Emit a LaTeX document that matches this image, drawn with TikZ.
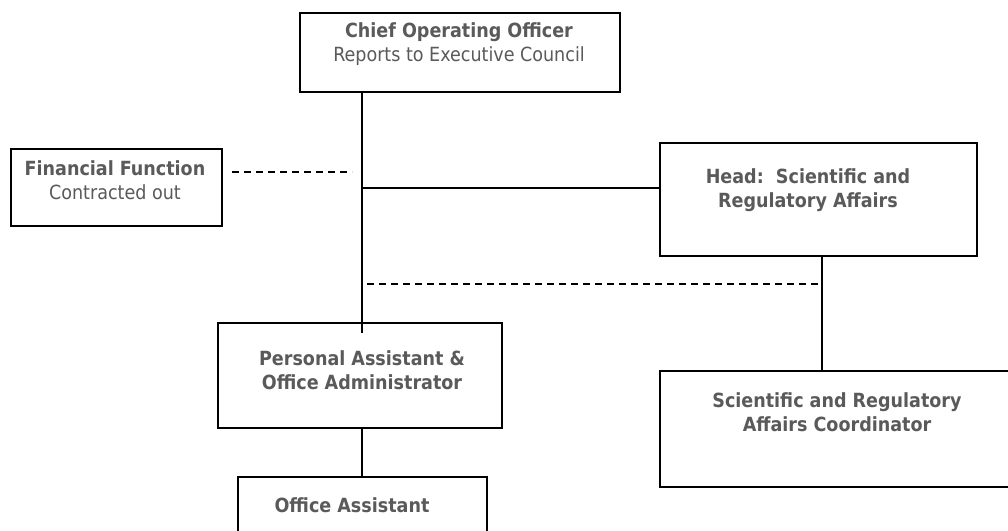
\documentclass[tikz,border=0pt]{standalone}
\usepackage{fontspec}
\setmainfont{DejaVu Sans Condensed}
\usetikzlibrary{calc}
\definecolor{txt}{HTML}{5A5A5A}
\tikzset{
  box/.style={draw=black, line width=1.8pt, fill=white, rectangle, anchor=north west, inner sep=0pt},
  lbl/.style={text=txt, align=center, font=\fontsize{19.5}{24.5}\selectfont, inner sep=0pt},
  link/.style={draw=black, line width=1.8pt},
  dotlink/.style={link, dash pattern=on 7pt off 5pt},
}
\begin{document}
\begin{tikzpicture}[x=1pt,y=-1pt]
\useasboundingbox (0,0) rectangle (1008,530);
\clip (0,0) rectangle (1008,530);
\fill[white] (0,0) rectangle (1008,530);

% boxes
\node[box, minimum width=320pt, minimum height=79pt] (coo) at (299,12) {};
\node[box, minimum width=211pt, minimum height=77pt] (fin) at (10,148) {};
\node[box, minimum width=317pt, minimum height=113pt] (head) at (659,142) {};
\node[box, minimum width=284pt, minimum height=105pt] (pa) at (217,322) {};
\node[box, minimum width=249pt, minimum height=90pt] (oa) at (237,476) {};
\node[box, minimum width=370pt, minimum height=116pt] (src) at (659,370) {};

% texts
\node[lbl] (cootxt) at (459,44) {\textbf{Chief Operating Officer}\\Reports to Executive Council};
\node[lbl] (fintxt) at (115,180) {\textbf{Financial Function}\\Contracted out};
\node[lbl] (headtxt) at (808,190) {\textbf{Head:\ \ Scientific and}\\\textbf{Regulatory Affairs}};
\node[lbl] (patxt) at (362,370) {\textbf{Personal Assistant \&}\\\textbf{Office Administrator}};
\node[lbl] (oatxt) at (352,505) {\textbf{Office Assistant}};
\node[lbl] (srctxt) at (837,412) {\textbf{Scientific and Regulatory}\\\textbf{Affairs Coordinator}};

% reporting lines
\coordinate (spinetop) at (362,91);
\coordinate (spineend) at (362,333);
\coordinate (headjoin) at ($(head.north west)!0.4!(head.south west)$);
\coordinate (finend) at (232,172);
\coordinate (finstart) at (352,172);
\coordinate (headfoot) at (822,255);
\coordinate (dotstart) at (367,284);

\draw[link] (spinetop) -- (spineend);
\draw[link] (spinetop |- headjoin) -- (headjoin);
\draw[link] (headfoot) -- (headfoot |- src.north);
\draw[link] (362,427) -- (362,476);
\draw[dotlink] (finend) -- (finstart);
\draw[dotlink] (dotstart) -- (dotstart -| headfoot);
\end{tikzpicture}
\end{document}
